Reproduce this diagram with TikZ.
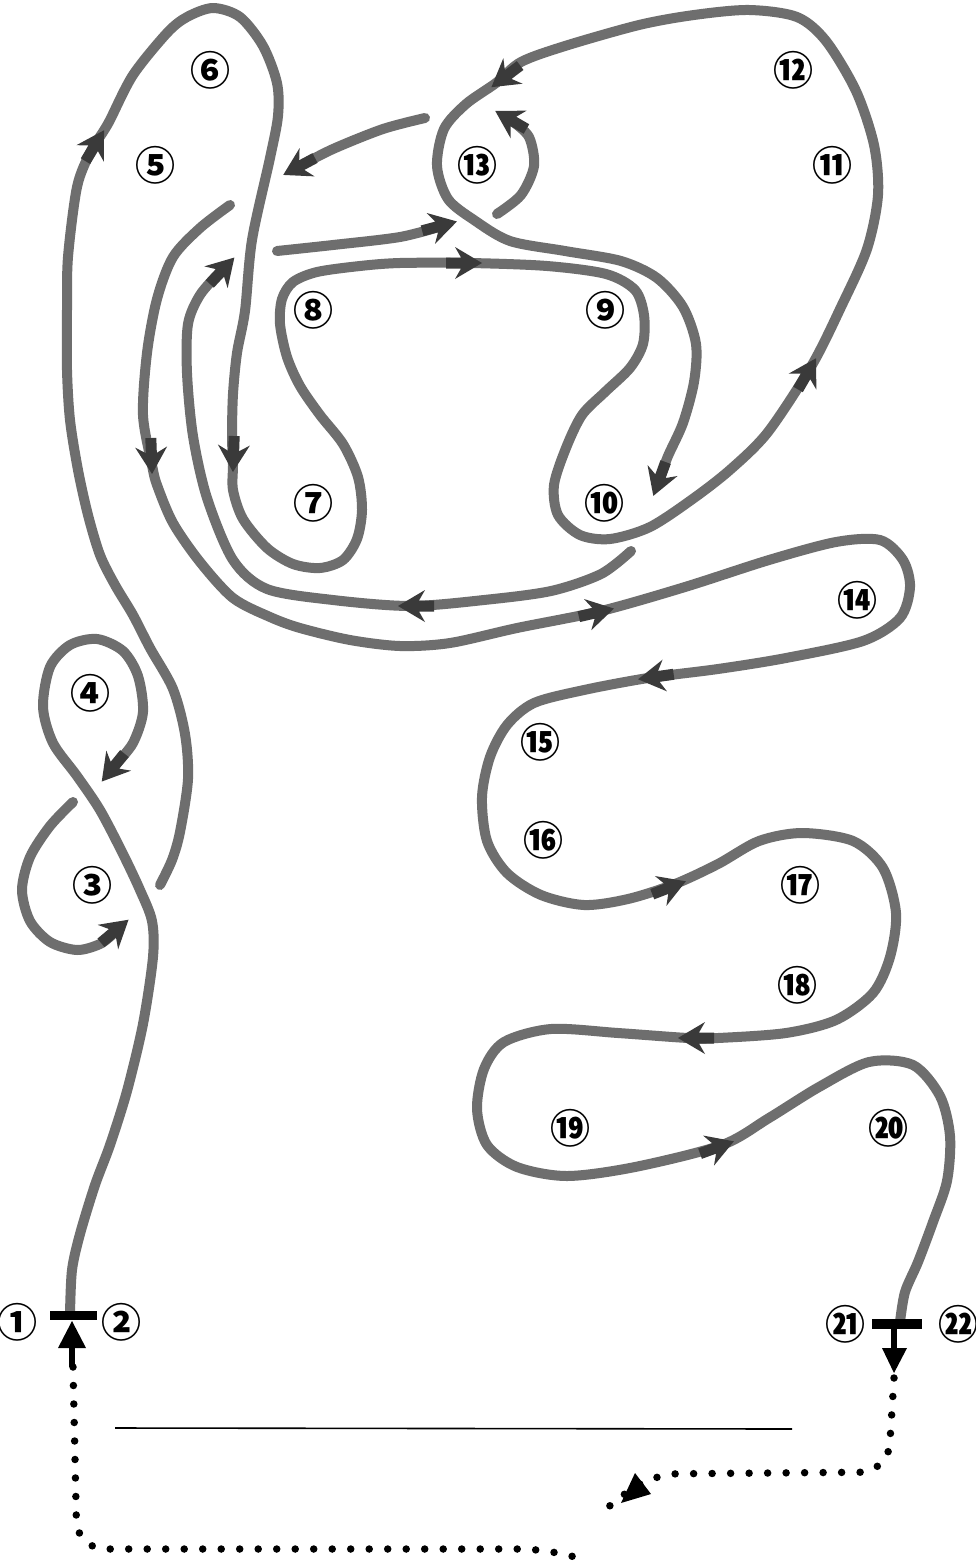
\documentclass[tikz,border=0pt]{standalone}
\usepackage{fontspec}
\newfontfamily\cjk{Noto Sans CJK JP}
\definecolor{ink}{HTML}{6E6E6E}
\definecolor{headc}{HTML}{3A3A3A}
\tikzset{
  strand/.style={draw=ink, line width=10pt, line cap=round, line join=round},
  lbl/.style={font=\cjk\bfseries\fontsize{40}{40}\selectfont, inner sep=0pt, text=black},
  dotline/.style={draw=black, line width=7.5pt, line cap=round, dash pattern=on 0pt off 18.5pt},
  bar/.style={fill=black},
}
\newcommand{\ahd}[3]{\fill[headc, shift={(#1,#2)}, rotate=#3] (2,0) -- (-25,16) -- (-19,5.5) -- (-34,5.5) -- (-34,-5.5) -- (-19,-5.5) -- (-25,-16) -- cycle;}
\begin{document}
\begin{tikzpicture}[x=1pt,y=-1pt]
\fill[white] (0,0) rectangle (976,1565);
\useasboundingbox (0,0) rectangle (976,1565);

% strand 1: from bar 1 upward into loop 4
\draw[strand] plot[smooth] coordinates {(70,1314) (72,1270) (80,1234) (95,1185) (110,1145) (127,1091) (143,1024) (153,957) (152,921) (140,890) (123,854) (100,810) (77,776) (53,743) (43,707) (50,667) (70,645) (97,639) (123,651) (138,676) (143,712) (133,743) (116,764)};
\ahd{103}{780}{231}

% strand 2: loop 3
\draw[strand] plot[smooth] coordinates {(73,802) (50,826) (30,857) (22,890) (30,921) (50,942) (77,950) (100,944) (114,933)};
\ahd{127}{921}{40}

% strand 3: long path 5-6-7-8-9-10-11-12-13
\draw[strand] plot[smooth] coordinates {(160,885) (172,860) (180,832) (188,779) (185,734) (173,689) (150,648) (133,615) (115,585) (100,555) (88,515) (78,470) (70,420) (67,370) (67,310) (68,257) (77,187) (90,153) (103,132) (110,120) (133,75) (167,33) (187,17) (213,8) (240,17) (263,46) (277,83) (278,116) (270,158) (252,240) (245,311) (237,353) (233,394) (232,436) (233,465) (233,490) (243,519) (267,548) (293,564) (320,568) (343,560) (357,539) (362,510) (358,477) (343,444) (320,415) (300,386) (287,357) (280,324) (282,299) (293,282) (317,272) (360,266) (400,263) (470,263) (547,266) (606,274) (635,290) (644,315) (643,344) (630,368) (605,392) (582,415) (566,448) (554,485) (558,515) (580,535) (610,539) (650,527) (694,498) (731,469) (768,432) (812,365) (841,307) (867,249) (878,195) (874,145) (856,91) (826,41) (797,17) (749,10) (694,15) (639,25) (565,46) (521,62) (496,83) (466,104) (444,129) (437,166) (448,199) (474,220) (510,241) (565,251) (621,261) (657,278) (683,307) (696,344) (694,382) (683,423) (668,456) (660,478)};
\ahd{103}{132}{59}
\ahd{233}{470}{268}
\ahd{480}{263}{0}
\ahd{815}{360}{60}
\ahd{493}{86}{217}
\ahd{654}{494}{250}

% strand 4: hook in 13
\draw[strand] plot[smooth] coordinates {(497,214) (521,195) (534,166) (529,137) (512,121)};
\ahd{497}{112}{150}

% strand 5: short stroke to the left
\draw[strand] plot[smooth] coordinates {(425,118) (383,129) (333,149) (298,167)};
\ahd{285}{174}{208}

% strand 6: short stroke to 13
\draw[strand] plot[smooth] coordinates {(277,251) (333,245) (400,237) (442,226)};
\ahd{455}{222}{15}

% strand 7: inner strand from 10 back up
\draw[strand] plot[smooth] coordinates {(631,551) (601,574) (551,591) (484,600) (410,606) (333,600) (267,589) (233,560) (207,498) (193,436) (187,373) (188,324) (200,295) (220,272)};
\ahd{400}{606}{180}
\ahd{233}{259}{47}

% strand 8: 14 to 21
\draw[strand] plot[smooth] coordinates {(230,205) (200,228) (173,257) (157,299) (147,353) (143,415) (152,465) (157,485) (173,523) (200,562) (233,598) (270,617) (300,628) (350,640) (400,646) (450,643) (517,628) (601,611) (685,587) (769,560) (836,542) (880,540) (903,560) (910,587) (900,618) (863,641) (786,658) (718,669) (648,678) (584,690) (534,703) (507,725) (490,757) (482,797) (487,841) (507,873) (541,895) (584,905) (628,899) (675,884) (718,864) (759,841) (802,833) (853,841) (883,868) (896,913) (890,957) (873,993) (836,1020) (786,1033) (718,1038) (688,1038) (618,1033) (551,1029) (504,1042) (484,1069) (477,1109) (487,1145) (517,1167) (567,1176) (635,1167) (722,1145) (769,1118) (819,1087) (869,1062) (913,1065) (940,1096) (950,1136) (947,1181) (933,1222) (918,1262) (905,1292) (900,1322)};
\ahd{152}{472}{272}
\ahd{612}{609}{13}
\ahd{640}{679}{188}
\ahd{684}{882}{21}
\ahd{680}{1038}{180}
\ahd{732}{1142}{20}

% bars and black arrows
\fill[bar] (50,1311) rectangle (97,1320);
\fill[bar] (872,1319) rectangle (922,1329);
\draw[black, line width=6pt] (72,1367) -- (72,1342);
\fill[black] (72,1321) -- (58,1348) -- (86,1348) -- cycle;
\draw[black, line width=6pt] (894,1329) -- (894,1354);
\fill[black] (894,1373) -- (882,1348) -- (907,1348) -- cycle;

% thin line
\draw[black, line width=1.6pt] (115,1428) -- (792,1429);

% dotted paths
\draw[dotline, rounded corners=28pt] (73,1367) -- (77,1549) -- (548,1549) -- (588,1561);
\draw[dotline, rounded corners=28pt] (894,1378) -- (888,1472) -- (650,1474) -- (602,1512);
\fill[black] (621,1503) -- (635,1473) -- (651,1494) -- cycle;

% labels
\node[lbl] (n1) at (18,1322) {①};
\node[lbl] (n2) at (121,1322) {②};
\node[lbl] (n3) at (92,885) {③};
\node[lbl] (n4) at (90,693) {④};
\node[lbl] (n5) at (155,165) {⑤};
\node[lbl] (n6) at (210,70) {⑥};
\node[lbl] (n7) at (313,503) {⑦};
\node[lbl] (n8) at (313,310) {⑧};
\node[lbl] (n9) at (605,310) {⑨};
\node[lbl] (n10) at (604,503) {⑩};
\node[lbl] (n11) at (832,165) {⑪};
\node[lbl] (n12) at (793,70) {⑫};
\node[lbl] (n13) at (477,165) {⑬};
\node[lbl] (n14) at (857,600) {⑭};
\node[lbl] (n15) at (540,742) {⑮};
\node[lbl] (n16) at (543,840) {⑯};
\node[lbl] (n17) at (800,885) {⑰};
\node[lbl] (n18) at (797,985) {⑱};
\node[lbl] (n19) at (570,1128) {⑲};
\node[lbl] (n20) at (888,1128) {⑳};
\node[lbl] (n21) at (845,1324) {㉑};
\node[lbl] (n22) at (958,1324) {㉒};
\end{tikzpicture}
\end{document}
